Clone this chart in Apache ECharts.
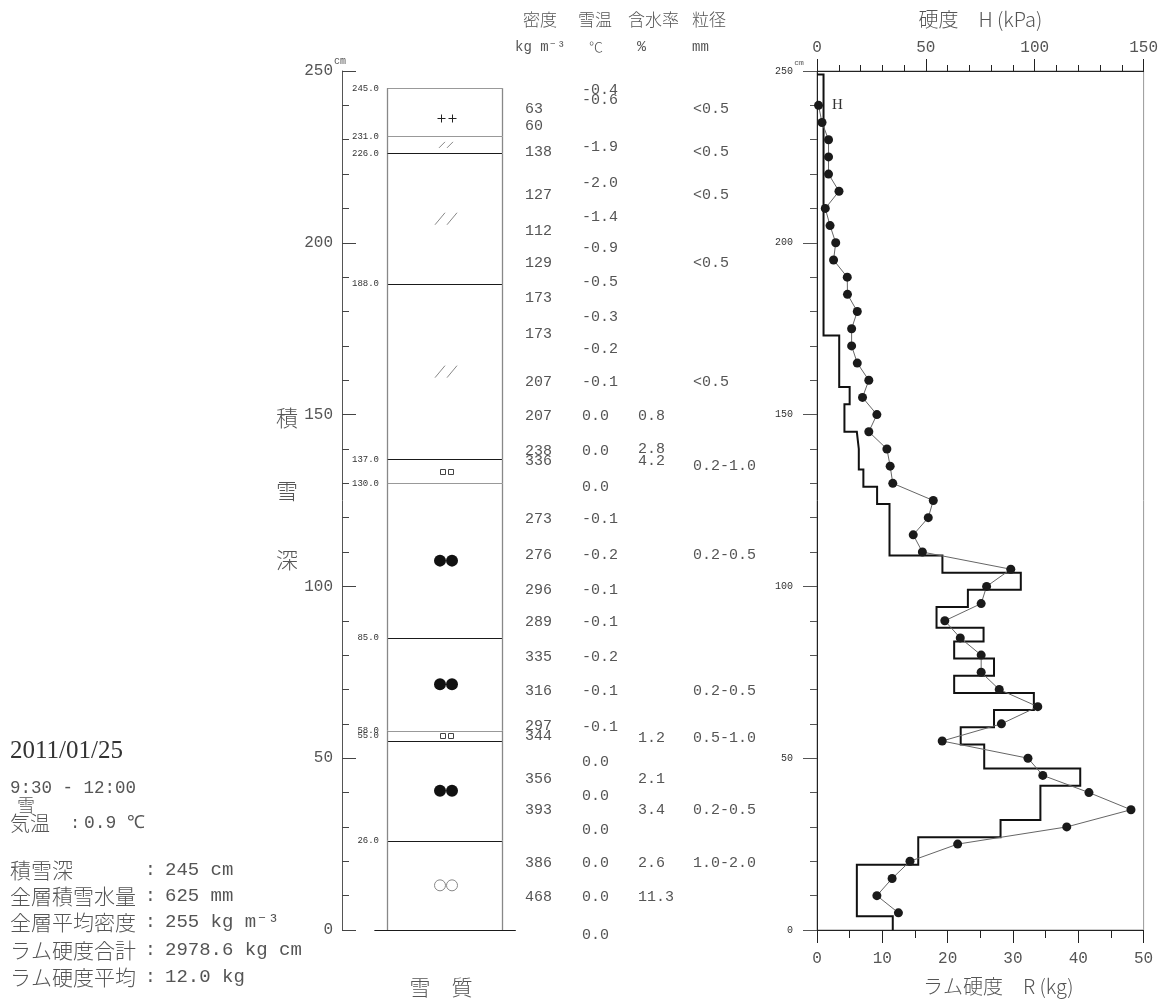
<!DOCTYPE html>
<html><head><meta charset="utf-8">
<script src="https://cdn.jsdelivr.net/npm/echarts@6/dist/echarts.min.js"></script>
<style>html,body{margin:0;padding:0;background:#fff}#c{width:1161px;height:1004px}</style>
</head><body><div id="c"></div><script>
// ---------------- data ----------------
// layer boundaries (cm) and grain-shape symbol per layer (top -> bottom)
const layerBounds = [245, 231, 226, 188, 137, 130, 85, 58, 55, 26, 0];
const layerGrain = ['++', '//', '//', '//', '□□', '●●', '●●', '□□', '●●', '○○'];

// density (kg m-3) and the height (cm) where each value is written
const densityHeights = [239, 234, 226.5, 214, 203.5, 194, 184, 173.5, 159.5, 149.5, 139.5, 136.5, 119.5, 109, 99, 89.5, 79.5, 69.5, 59.5, 56.5, 44, 35, 19.5, 9.5];
const densityValues = [63, 60, 138, 127, 112, 129, 173, 173, 207, 207, 238, 336, 273, 276, 296, 289, 335, 316, 297, 344, 356, 393, 386, 468];

// snow temperature (°C)
const tempHeights = [244.5, 241.5, 228, 217.5, 207.5, 198.5, 188.5, 178.5, 169, 159.5, 149.5, 139.5, 129, 119.5, 109, 99, 89.5, 79.5, 69.5, 59, 49, 39, 29, 19.5, 9.5, -1.5];
const tempValues = [-0.4, -0.6, -1.9, -2.0, -1.4, -0.9, -0.5, -0.3, -0.2, -0.1, 0.0, 0.0, 0.0, -0.1, -0.2, -0.1, -0.1, -0.2, -0.1, -0.1, 0.0, 0.0, 0.0, 0.0, 0.0, 0.0];

// water content (%)
const waterHeights = [149.5, 140, 136.5, 56, 44, 35, 19.5, 9.5];
const waterValues = [0.8, 2.8, 4.2, 1.2, 2.1, 3.4, 2.6, 11.3];

// grain size (mm)
const grainHeights = [239, 226.5, 214, 194, 159.5, 135, 109, 69.5, 56, 35, 19.5];
const grainValues = ['<0.5', '<0.5', '<0.5', '<0.5', '<0.5', '0.2-1.0', '0.2-0.5', '0.2-0.5', '0.5-1.0', '0.2-0.5', '1.0-2.0'];

// push-gauge hardness H (kPa) every 5 cm
const hardHeights = [240, 235, 230, 225, 220, 215, 210, 205, 200, 195, 190, 185, 180, 175, 170, 165, 160, 155, 150, 145, 140, 135, 130, 125, 120, 115, 110, 105, 100, 95, 90, 85, 80, 75, 70, 65, 60, 55, 50, 45, 40, 35, 30, 25, 20, 15, 10, 5];
const hardValues = [0.7, 2.3, 5.3, 5.3, 5.3, 10.1, 3.8, 6.0, 8.6, 7.6, 13.9, 14.0, 18.5, 15.9, 15.9, 18.5, 23.8, 20.9, 27.5, 23.8, 32.1, 33.6, 34.8, 53.4, 51.1, 44.2, 48.4, 89.0, 77.9, 75.4, 58.7, 65.8, 75.4, 75.4, 83.7, 101.4, 84.7, 57.5, 96.9, 103.7, 124.9, 144.2, 114.7, 64.6, 42.7, 34.5, 27.5, 37.4];

// ram hardness R (kg): step boundaries (cm) and value in each step
const ramBounds = [0, 4, 19, 27, 32, 42, 47, 54, 59, 64, 69, 74, 79, 84, 88, 94, 99, 104, 109, 124, 129, 134, 140, 145, 153, 158, 173, 249];
const ramValues = [11.6, 6.1, 15.5, 28.1, 34.2, 40.3, 25.6, 22.0, 27.1, 33.2, 21.0, 27.1, 21.0, 25.5, 18.3, 23.1, 31.2, 19.2, 11.1, 9.2, 7.1, 6.4, 6.1, 4.2, 5.0, 3.4, 1.0];

// axis tick settings
const depthMax = 250, depthStep = 50;
const hMax = 150, hStep = 50;
const rMax = 50, rStep = 10;

// ---------------- drawing ----------------
const MONO = '"Liberation Mono", "DejaVu Sans Mono", monospace';
const JP = '"Noto Sans CJK JP", sans-serif';
const JPL = '300 ';
const SERIF = '"Liberation Serif", serif';
const TXT = '#555';

function txt(text, x, y, font, align, fill) {
  align = align || 'left';
  return {type: 'text', x: x, y: y, silent: true, z: 10,
    style: {text: text, font: font, fill: fill || TXT, align: align, verticalAlign: 'middle', textAlign: align, textVerticalAlign: 'middle'}};
}
function ln(x1, y1, x2, y2, color, w) {
  return {type: 'line', shape: {x1: x1, y1: y1, x2: x2, y2: y2}, style: {stroke: color, lineWidth: w || 1}};
}
const crisp = v => Math.round(v) + 0.5;

const layerSeries = {
  type: 'custom', xAxisIndex: 0, yAxisIndex: 0, silent: true, clip: false,
  data: layerGrain.map((g, i) => [layerBounds[i], layerBounds[i + 1], i]),
  renderItem: function (params, api) {
    const top = api.value(0), bot = api.value(1), i = api.value(2);
    const tl = api.coord([0, top]), br = api.coord([1, bot]);
    const ch = [];
    const yT = crisp(tl[1]);
    const light = [245, 231, 130, 58].indexOf(top) >= 0;
    ch.push(ln(tl[0], yT, br[0], yT, light ? '#999' : '#1a1a1a', 1));
    ch.push(ln(crisp(tl[0]), tl[1], crisp(tl[0]), br[1], '#888', 1.3));
    ch.push(ln(crisp(br[0]), tl[1], crisp(br[0]), br[1], '#888', 1.3));
    const prev = i > 0 ? layerBounds[i - 1] : 999;
    const dy = (prev - top) < 4 ? -5 : 0;
    ch.push({type: 'text', style: {text: top.toFixed(1), x: tl[0] - 8, y: tl[1] + dy, font: '9px ' + MONO, fill: '#333', align: 'right', verticalAlign: 'middle', textAlign: 'right', textVerticalAlign: 'middle'}});
    if (bot === 0) {
      const a = api.coord([-0.11, 0]), b = api.coord([1.12, 0]);
      ch.push(ln(a[0], crisp(a[1]), b[0], crisp(b[1]), '#1a1a1a', 1.2));
    }
    const g = layerGrain[i];
    const sx = (tl[0] + br[0]) / 2 + 1.5, sy = (tl[1] + br[1]) / 2;
    if (g === '●●') {
      [-6, 6].forEach(d => ch.push({type: 'circle', shape: {cx: sx + d, cy: sy, r: 6}, style: {fill: '#111'}}));
    } else if (g === '○○') {
      [-6, 6].forEach(d => ch.push({type: 'circle', shape: {cx: sx + d, cy: sy, r: 5.5}, style: {fill: '#fff', stroke: '#888', lineWidth: 1}}));
    } else if (g === '□□') {
      [-4, 4].forEach(d => ch.push({type: 'rect', shape: {x: Math.round(sx + d - 2.5) + 0.5, y: Math.round(sy - 2.5) + 0.5, width: 5, height: 5}, style: {fill: '#fff', stroke: '#444', lineWidth: 1}}));
    } else if (g === '++') {
      [-5.5, 5.5].forEach(d => {
        const cx = Math.round(sx + d) + 0.5, cy = Math.round(sy + 6) + 0.5;
        ch.push(ln(cx - 4, cy, cx + 4, cy, '#222', 1));
        ch.push(ln(cx, cy - 4, cx, cy + 4, '#222', 1));
      });
    } else if (g === '//') {
      const small = (br[1] - tl[1]) < 25;
      const s = small ? 3 : 5, h = small ? 3 : 6, dx = small ? 4 : 6;
      [-dx, dx].forEach(d => ch.push(ln(sx + d - s, sy + h, sx + d + s, sy - h, '#888', 1)));
    }
    return {type: 'group', children: ch};
  }
};

function textColumn(heights, labels, colX) {
  return {
    type: 'custom', xAxisIndex: 3, yAxisIndex: 2, silent: true, clip: false,
    data: heights.map((h, i) => [colX, h, i]),
    renderItem: function (params, api) {
      const pt = api.coord([api.value(0), api.value(1)]);
      return {type: 'text', style: {text: labels[api.value(2)], x: pt[0], y: pt[1], font: '15px ' + MONO, fill: TXT,
        align: 'left', verticalAlign: 'middle', textAlign: 'left', textVerticalAlign: 'middle'}};
    }
  };
}

const ramPts = [];
ramValues.forEach((v, i) => { ramPts.push([v, ramBounds[i]]); ramPts.push([v, ramBounds[i + 1]]); });
ramPts.push([0, ramBounds[ramBounds.length - 1]]);

const hardData = hardHeights.map((h, i) => [hardValues[i], h]);
hardData[0] = {value: hardData[0], label: {show: true, formatter: 'H', position: 'right', distance: 9, fontFamily: SERIF, fontSize: 15, color: '#333'}};

const axisCommon = {
  axisLine: {onZero: false, lineStyle: {color: '#222', width: 1}},
  splitLine: {show: false}, minorSplitLine: {show: false}
};

const option = {
  animation: false,
  backgroundColor: '#fff',
  grid: [
    {left: 364, top: 71, width: 161, height: 859},
    {left: 817, top: 71, width: 330, height: 859, show: true, borderColor: '#999', borderWidth: 1, backgroundColor: 'transparent'},
    {left: 500, top: 71, width: 280, height: 859}
  ],
  xAxis: [
    {gridIndex: 0, type: 'value', min: -0.2, max: 1.2, show: false},
    Object.assign({}, axisCommon, {gridIndex: 1, type: 'value', position: 'top', min: 0, max: hMax, interval: hStep,
      axisTick: {show: true, length: 12, lineStyle: {color: '#222'}},
      minorTick: {show: true, splitNumber: 5, length: 6, lineStyle: {color: '#222'}},
      axisLabel: {margin: 15, fontFamily: MONO, fontSize: 16, color: TXT},
      name: '硬度　H (kPa)', nameLocation: 'middle', nameGap: 42,
      nameTextStyle: {fontFamily: JP, fontWeight: 300, fontSize: 20, color: TXT}}),
    Object.assign({}, axisCommon, {gridIndex: 1, type: 'value', position: 'bottom', min: 0, max: rMax, interval: rStep,
      axisTick: {show: true, length: 13, lineStyle: {color: '#222'}},
      minorTick: {show: true, splitNumber: 2, length: 8, lineStyle: {color: '#222'}},
      axisLabel: {margin: 21, fontFamily: MONO, fontSize: 16, color: TXT},
      name: 'ラム硬度　R (kg)', nameLocation: 'middle', nameGap: 46,
      nameTextStyle: {fontFamily: JP, fontWeight: 300, fontSize: 20, color: TXT, padding: [0, 0, 0, 36]}}),
    {gridIndex: 2, type: 'value', min: 0, max: 280, show: false}
  ],
  yAxis: [
    Object.assign({}, axisCommon, {gridIndex: 0, type: 'value', min: 0, max: depthMax, interval: depthStep, offset: 22,
      axisLine: {onZero: false, lineStyle: {color: '#555', width: 1}},
      axisTick: {show: true, inside: true, length: 14, lineStyle: {color: '#444'}},
      minorTick: {show: true, splitNumber: 5, length: 7, lineStyle: {color: '#444'}},
      axisLabel: {margin: 9, fontFamily: MONO, fontSize: 16, color: TXT}}),
    Object.assign({}, axisCommon, {gridIndex: 1, type: 'value', min: 0, max: depthMax, interval: depthStep,
      axisTick: {show: true, length: 14, lineStyle: {color: '#555'}},
      minorTick: {show: true, splitNumber: 5, length: 7, lineStyle: {color: '#555'}},
      axisLabel: {margin: 24, fontFamily: MONO, fontSize: 10, color: '#333'}}),
    {gridIndex: 2, type: 'value', min: 0, max: depthMax, show: false}
  ],
  series: [
    layerSeries,
    textColumn(densityHeights, densityValues.map(String), 25),
    textColumn(tempHeights, tempValues.map(v => v.toFixed(1)), 82),
    textColumn(waterHeights, waterValues.map(v => v.toFixed(1)), 138),
    textColumn(grainHeights, grainValues, 193),
    {type: 'line', xAxisIndex: 2, yAxisIndex: 1, data: ramPts, symbol: 'none', z: 3,
      lineStyle: {color: '#111', width: 2, join: 'miter'}, silent: true},
    {type: 'line', xAxisIndex: 1, yAxisIndex: 1, data: hardData, symbol: 'circle', symbolSize: 9, z: 4,
      itemStyle: {color: '#1a1a1a'}, lineStyle: {color: '#666', width: 1}, silent: true}
  ],
  graphic: [
    txt('密度', 523, 20, JPL + '17px ' + JP),
    txt('雪温', 578, 20, JPL + '17px ' + JP),
    txt('含水率', 628, 20, JPL + '17px ' + JP),
    txt('粒径', 692, 20, JPL + '17px ' + JP),
    txt('kg m⁻³', 515, 47, '14px ' + MONO),
    txt('℃', 589, 47, JPL + '14px ' + JP),
    txt('%', 637, 47, '15px ' + MONO),
    txt('mm', 692, 47, '14px ' + MONO),
    txt('cm', 334, 61, '10px ' + MONO),
    txt('cm', 799, 63, '8px ' + MONO, 'center'),
    txt('積', 287, 418, JPL + '22px ' + JP, 'center'),
    txt('雪', 287, 491, JPL + '22px ' + JP, 'center'),
    txt('深', 287, 560, JPL + '22px ' + JP, 'center'),
    txt('雪　質', 441, 987, JPL + '21px ' + JP, 'center'),
    txt('2011/01/25', 10, 751, '25px ' + SERIF, 'left', '#333'),
    txt('9:30 - 12:00', 10, 788, '17.5px ' + MONO),
    txt('雪', 17, 805, JPL + '18px ' + JP),
    txt('気温', 10, 823, JPL + '20px ' + JP),
    txt(':', 70, 823, '17px ' + MONO),
    txt('0.9 ℃', 84, 823, '18px ' + MONO),
    txt('積雪深', 10, 870, JPL + '21px ' + JP),
    txt('全層積雪水量', 10, 896, JPL + '21px ' + JP),
    txt('全層平均密度', 10, 922, JPL + '21px ' + JP),
    txt('ラム硬度合計', 10, 950, JPL + '21px ' + JP),
    txt('ラム硬度平均', 10, 977, JPL + '21px ' + JP),
    txt(':', 145, 870, '18px ' + MONO),
    txt(':', 145, 896, '18px ' + MONO),
    txt(':', 145, 922, '18px ' + MONO),
    txt(':', 145, 950, '18px ' + MONO),
    txt(':', 145, 977, '18px ' + MONO),
    txt('245 cm', 165, 870, '19px ' + MONO),
    txt('625 mm', 165, 896, '19px ' + MONO),
    txt('255 kg m⁻³', 165, 922, '19px ' + MONO),
    txt('2978.6 kg cm', 165, 950, '19px ' + MONO),
    txt('12.0 kg', 165, 977, '19px ' + MONO)
  ]
};

const chart = echarts.init(document.getElementById('c'), null, {renderer: 'canvas'});
chart.setOption(option);
</script></body></html>
